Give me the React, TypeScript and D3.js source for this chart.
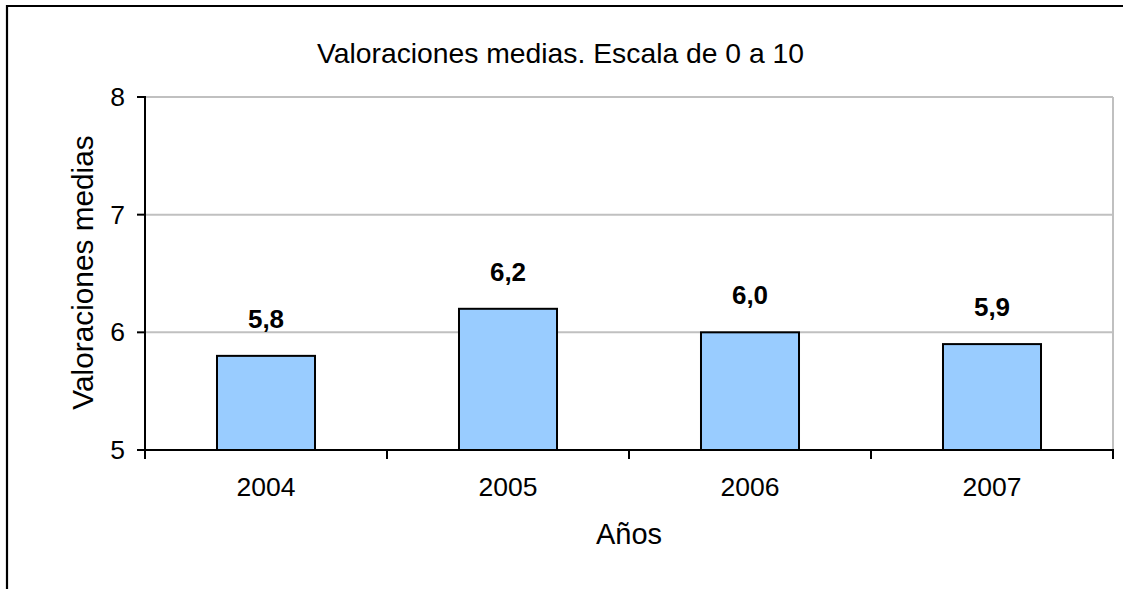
import React from "react";
import * as d3 from "d3";

const categories = ["2004", "2005", "2006", "2007"];
const values = [5.8, 6.2, 6.0, 5.9];
const yTicks = [5, 6, 7, 8];
const title = "Valoraciones medias. Escala de 0 a 10";
const yTitle = "Valoraciones medias";
const xTitle = "Años";

const W = 1123;
const H = 589;
const M = { left: 145, right: 1113, top: 97, bottom: 450 };
const FONT = "'Liberation Sans', Arial, sans-serif";

export default function App() {
  const x = d3.scaleBand<string>().domain(categories).range([M.left, M.right]).padding(0);
  const y = d3.scaleLinear().domain([5, 8]).range([M.bottom, M.top]);
  const barW = x.bandwidth() * 0.405;
  const fmt = (v: number) => d3.format(".1f")(v).replace(".", ",");
  const boundaries = [...categories.map((c) => x(c) as number), M.right];

  return (
    <svg
      width={W}
      height={H}
      style={{ position: "absolute", left: 0, top: 0, background: "#fff", display: "block" }}
      fontFamily={FONT}
    >
      <rect x={0} y={0} width={W} height={H} fill="#fff" />
      <line x1={6} x2={W} y1={6} y2={6} stroke="#000" strokeWidth={2.2} />
      <line x1={7} x2={7} y1={5} y2={H} stroke="#000" strokeWidth={2.2} />

      {/* gridlines */}
      {yTicks
        .filter((t) => t !== 5)
        .map((t) => (
          <line key={"g" + t} x1={M.left} x2={M.right} y1={y(t)} y2={y(t)} stroke="#c0c0c0" strokeWidth={2} />
        ))}
      <line x1={M.right} x2={M.right} y1={M.top} y2={M.bottom} stroke="#c0c0c0" strokeWidth={2} />

      {/* bars */}
      {categories.map((c, i) => {
        const cx = (x(c) as number) + x.bandwidth() / 2;
        return (
          <g key={c}>
            <rect
              x={cx - barW / 2}
              y={y(values[i])}
              width={barW}
              height={y(5) - y(values[i])}
              fill="#99ccff"
              stroke="#000"
              strokeWidth={2}
            />
            <text x={cx} y={y(values[i]) - 28} textAnchor="middle" fontSize={26} fontWeight="bold" fill="#000">
              {fmt(values[i])}
            </text>
            <text x={cx} y={M.bottom + 46} textAnchor="middle" fontSize={26.5} fill="#000">
              {c}
            </text>
          </g>
        );
      })}

      {/* axes */}
      <line x1={M.left} x2={M.left} y1={M.top - 1} y2={M.bottom + 1} stroke="#000" strokeWidth={2} />
      <line x1={M.left - 1} x2={M.right + 1} y1={M.bottom} y2={M.bottom} stroke="#000" strokeWidth={2} />
      {yTicks.map((t) => (
        <g key={"t" + t}>
          <line x1={M.left - 8} x2={M.left} y1={y(t)} y2={y(t)} stroke="#000" strokeWidth={2} />
          <text x={M.left - 20} y={y(t) + 9} textAnchor="end" fontSize={26.5} fill="#000">
            {t}
          </text>
        </g>
      ))}
      {boundaries.map((b, i) => (
        <line key={"xt" + i} x1={b} x2={b} y1={M.bottom} y2={M.bottom + 9} stroke="#000" strokeWidth={2} />
      ))}

      {/* titles */}
      <text x={560.5} y={63} textAnchor="middle" fontSize={28.3} fill="#000">
        {title}
      </text>
      <text
        transform={`translate(93, 272.5) rotate(-90)`}
        textAnchor="middle"
        fontSize={29.8}
        fill="#000"
      >
        {yTitle}
      </text>
      <text x={(M.left + M.right) / 2} y={544} textAnchor="middle" fontSize={29} fill="#000">
        {xTitle}
      </text>
    </svg>
  );
}
